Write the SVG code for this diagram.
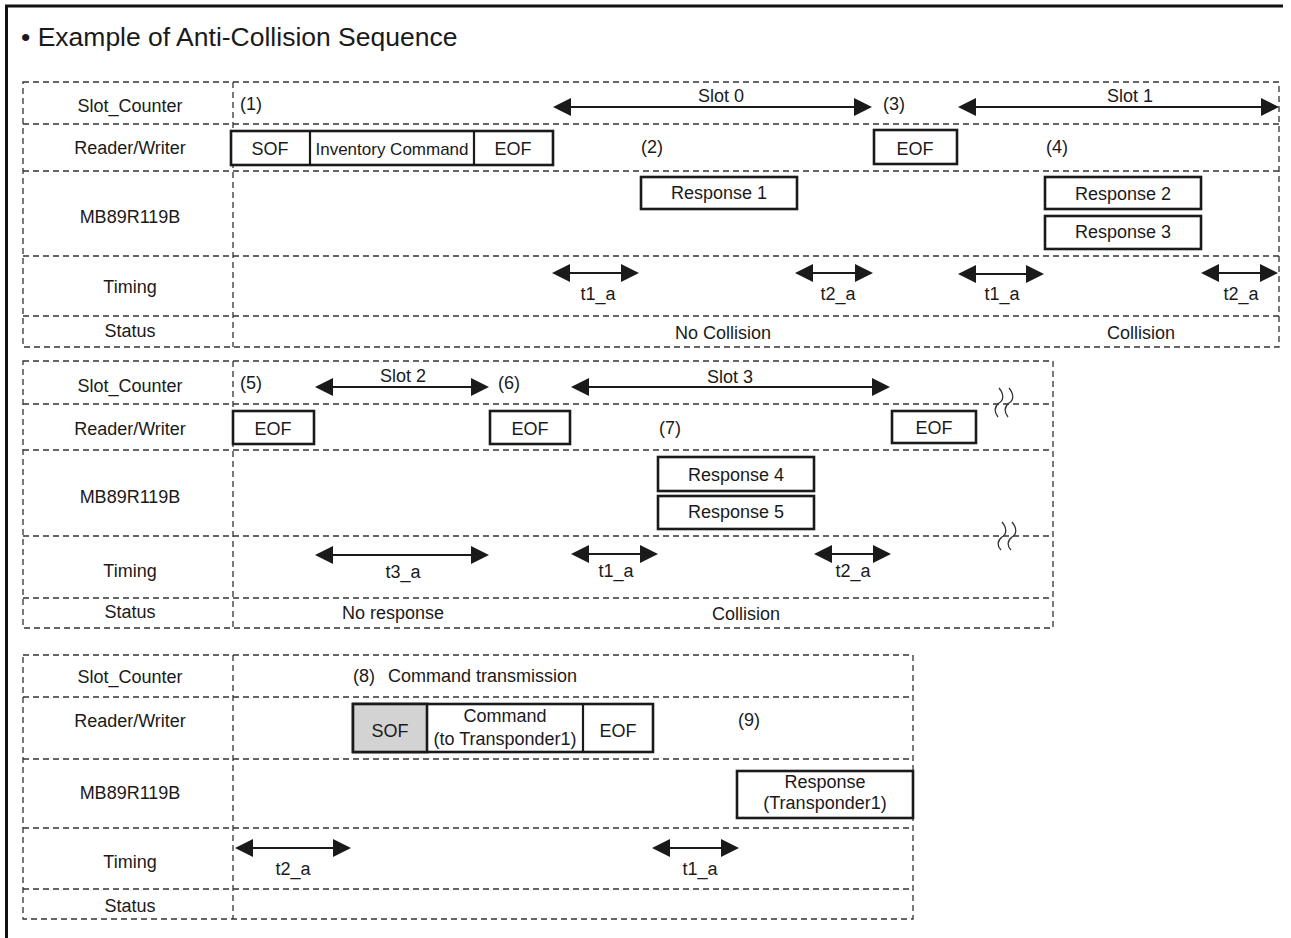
<svg xmlns="http://www.w3.org/2000/svg" width="1291" height="938" viewBox="0 0 1291 938">
<defs>
<marker id="ah" markerUnits="userSpaceOnUse" markerWidth="18" markerHeight="18" refX="16" refY="9" orient="auto-start-reverse" viewBox="0 0 18 18">
<path d="M0,0 L18,9 L0,18 z" fill="#1a1a1a"/>
</marker>
<style>
text{font-family:"Liberation Sans",Arial,Helvetica,sans-serif;font-size:18px;fill:#1a1a1a}
.c{text-anchor:middle}
.title{font-size:26.5px}
.sm{font-size:17px}
.grid{fill:none;stroke:#333;stroke-width:1.3;stroke-dasharray:6 4}
.box{fill:#fff;stroke:#1a1a1a;stroke-width:2.6}
.gray{fill:#d3d3d3;stroke:#1a1a1a;stroke-width:2.6}
.div{stroke:#1a1a1a;stroke-width:2.2}
.arr{stroke:#1a1a1a;stroke-width:2;marker-start:url(#ah);marker-end:url(#ah)}
.wave{fill:none;stroke:#333;stroke-width:1.3}
</style>
</defs>
<rect width="1291" height="938" fill="#fff"/>
<path d="M6.5,938 V6 H1283" fill="none" stroke="#111" stroke-width="3"/>
<text x="21" y="46" class="title">• Example of Anti-Collision Sequence</text>

<!-- ===== Table 1 ===== -->
<g id="table1">
<rect class="grid" x="23" y="82" width="1256" height="265"/>
<path class="grid" d="M23,124H1279 M23,171H1279 M23,256H1279 M23,316H1279 M233,82V347"/>
<text class="c" x="130" y="112">Slot_Counter</text>
<text class="c" x="130" y="154">Reader/Writer</text>
<text class="c" x="130" y="223">MB89R119B</text>
<text class="c" x="130" y="293">Timing</text>
<text class="c" x="130" y="337">Status</text>
</g>
<g id="t1-frame1">
<rect class="box" x="231" y="131" width="322" height="34"/>
<path class="div" d="M310,131V165 M474,131V165"/>
<text class="c" x="270" y="155">SOF</text>
<text class="c sm" x="392" y="155">Inventory Command</text>
<text class="c" x="513" y="155">EOF</text>
</g>
<g id="t1-eof2">
<rect class="box" x="874" y="130" width="83" height="34"/>
<text class="c" x="915" y="155">EOF</text>
</g>
<g id="t1-resp1"><rect class="box" x="641" y="177" width="156" height="32"/><text class="c" x="719" y="199">Response 1</text></g>
<g id="t1-resp2"><rect class="box" x="1045" y="177" width="156" height="32"/><text class="c" x="1123" y="200">Response 2</text></g>
<g id="t1-resp3"><rect class="box" x="1045" y="216" width="156" height="33"/><text class="c" x="1123" y="238">Response 3</text></g>
<g id="t1-labels">
<text x="240" y="110">(1)</text>
<text x="641" y="153">(2)</text>
<text x="883" y="110">(3)</text>
<text x="1046" y="153">(4)</text>
<text class="c" x="721" y="102">Slot 0</text>
<text class="c" x="1130" y="102">Slot 1</text>
<text class="c" x="598" y="300">t1_a</text>
<text class="c" x="838" y="300">t2_a</text>
<text class="c" x="1002" y="300">t1_a</text>
<text class="c" x="1241" y="300">t2_a</text>
<text class="c" x="723" y="339">No Collision</text>
<text class="c" x="1141" y="339">Collision</text>
</g>

<!-- ===== Table 2 ===== -->
<g id="table2">
<rect class="grid" x="23" y="361" width="1030" height="267"/>
<path class="grid" d="M23,404H1053 M23,450H1053 M23,536H1053 M23,598H1053 M233,361V628"/>
<text class="c" x="130" y="392">Slot_Counter</text>
<text class="c" x="130" y="435">Reader/Writer</text>
<text class="c" x="130" y="503">MB89R119B</text>
<text class="c" x="130" y="577">Timing</text>
<text class="c" x="130" y="618">Status</text>
</g>
<g id="t2-eof1"><rect class="box" x="233" y="411" width="81" height="33"/><text class="c" x="273" y="435">EOF</text></g>
<g id="t2-eof2"><rect class="box" x="490" y="411" width="80" height="33"/><text class="c" x="530" y="435">EOF</text></g>
<g id="t2-eof3"><rect class="box" x="892" y="411" width="84" height="32"/><text class="c" x="934" y="434">EOF</text></g>
<g id="t2-resp4"><rect class="box" x="658" y="457" width="156" height="34"/><text class="c" x="736" y="481">Response 4</text></g>
<g id="t2-resp5"><rect class="box" x="658" y="496" width="156" height="33"/><text class="c" x="736" y="518">Response 5</text></g>
<g id="t2-labels">
<text x="240" y="389">(5)</text>
<text x="498" y="389">(6)</text>
<text x="659" y="434">(7)</text>
<text class="c" x="403" y="382">Slot 2</text>
<text class="c" x="730" y="383">Slot 3</text>
<text class="c" x="403" y="578">t3_a</text>
<text class="c" x="616" y="577">t1_a</text>
<text class="c" x="853" y="577">t2_a</text>
<text class="c" x="393" y="619">No response</text>
<text class="c" x="746" y="620">Collision</text>
</g>
<g id="t2-breaks">
<path class="wave" d="M999,388 C1004,394 1004,400 999,403 C994,407 994,412 998,417 M1009,388 C1014,394 1014,400 1009,403 C1004,407 1004,412 1008,417"/>
<path class="wave" d="M1002,522 C1007,528 1007,534 1002,537 C997,541 997,546 1001,550 M1012,522 C1017,528 1017,534 1012,537 C1007,541 1007,546 1011,550"/>
</g>

<!-- ===== Table 3 ===== -->
<g id="table3">
<rect class="grid" x="23" y="655" width="890" height="264"/>
<path class="grid" d="M23,697H913 M23,759H913 M23,828H913 M23,889H913 M233,655V919"/>
<text class="c" x="130" y="683">Slot_Counter</text>
<text class="c" x="130" y="727">Reader/Writer</text>
<text class="c" x="130" y="799">MB89R119B</text>
<text class="c" x="130" y="868">Timing</text>
<text class="c" x="130" y="912">Status</text>
</g>
<g id="t3-frame">
<rect class="box" x="353" y="704" width="300" height="48"/>
<rect class="gray" x="353" y="704" width="74" height="48"/>
<path class="div" d="M583,704V752"/>
<text class="c" x="390" y="737">SOF</text>
<text class="c" x="505" y="722">Command</text>
<text class="c" x="505" y="745">(to Transponder1)</text>
<text class="c" x="618" y="737">EOF</text>
</g>
<g id="t3-resp">
<rect class="box" x="737" y="771" width="176" height="47"/>
<text class="c" x="825" y="788">Response</text>
<text class="c" x="825" y="809">(Transponder1)</text>
</g>
<g id="t3-labels">
<text x="353" y="682">(8)</text>
<text x="388" y="682">Command transmission</text>
<text x="738" y="726">(9)</text>
<text class="c" x="293" y="875">t2_a</text>
<text class="c" x="700" y="875">t1_a</text>
</g>

<!-- ===== Connectors (arrows) ===== -->
<g id="connectors">
<line class="arr" x1="555" y1="107" x2="870" y2="107"/>
<line class="arr" x1="960" y1="107" x2="1277" y2="107"/>
<line class="arr" x1="554" y1="273" x2="637" y2="273"/>
<line class="arr" x1="797" y1="273" x2="871" y2="273"/>
<line class="arr" x1="960" y1="274" x2="1042" y2="274"/>
<line class="arr" x1="1203" y1="273" x2="1276" y2="273"/>
<line class="arr" x1="317" y1="387" x2="487" y2="387"/>
<line class="arr" x1="573" y1="387" x2="888" y2="387"/>
<line class="arr" x1="317" y1="555" x2="487" y2="555"/>
<line class="arr" x1="573" y1="554" x2="656" y2="554"/>
<line class="arr" x1="816" y1="554" x2="889" y2="554"/>
<line class="arr" x1="237" y1="848" x2="349" y2="848"/>
<line class="arr" x1="654" y1="848" x2="737" y2="848"/>
</g>
</svg>
